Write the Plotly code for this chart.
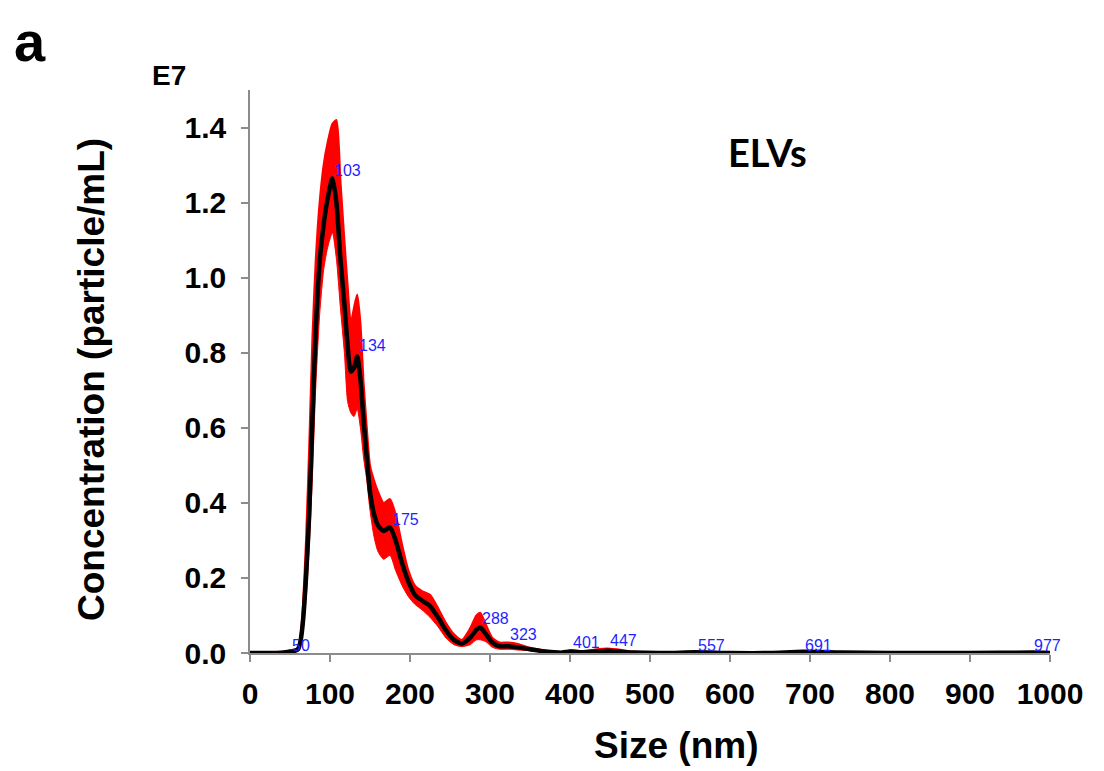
import plotly.graph_objects as go

# ---------------- data ----------------
size_nm = [0, 20, 40, 50, 55, 60, 63, 66, 70, 74, 78, 82, 87, 92, 97, 103, 108, 113, 118, 122,
           126, 130, 134, 138, 142, 146, 150, 155, 160, 167, 175, 182, 190, 198, 206, 215, 225,
           235, 245, 255, 265, 275, 283, 288, 295, 303, 312, 323, 335, 350, 365, 380, 390, 401,
           415, 430, 447, 465, 480, 520, 557, 600, 650, 691, 740, 800, 900, 977, 1000]

conc_mean = [0, 0, 0.001, 0.004, 0.005, 0.01, 0.03, 0.08, 0.2, 0.37, 0.62, 0.85, 1.04, 1.14, 1.21,
             1.265, 1.2, 1.05, 0.93, 0.82, 0.75, 0.76, 0.79, 0.73, 0.62, 0.52, 0.43, 0.37, 0.34,
             0.325, 0.335, 0.30, 0.24, 0.19, 0.155, 0.14, 0.125, 0.095, 0.06, 0.035, 0.025, 0.04,
             0.062, 0.068, 0.05, 0.028, 0.018, 0.018, 0.015, 0.01, 0.005, 0.002, 0.001, 0.004,
             0.002, 0.003, 0.006, 0.003, 0.001, 0.0, 0.002, 0.0, 0.0, 0.003, 0.001, 0.0, 0.0,
             0.001, 0.0]

conc_upper = [0.002, 0.002, 0.003, 0.006, 0.008, 0.015, 0.045, 0.12, 0.3, 0.55, 0.84, 1.04, 1.2,
              1.3, 1.36, 1.41, 1.42, 1.26, 1.1, 0.98, 0.88, 0.92, 0.955, 0.88, 0.72, 0.6, 0.5,
              0.46, 0.43, 0.4, 0.41, 0.37, 0.29, 0.22, 0.18, 0.165, 0.155, 0.12, 0.08, 0.05,
              0.035, 0.065, 0.1, 0.107, 0.075, 0.04, 0.028, 0.028, 0.024, 0.014, 0.008, 0.003,
              0.002, 0.007, 0.005, 0.009, 0.012, 0.008, 0.003, 0.001, 0.003, 0.001, 0.001,
              0.004, 0.002, 0.001, 0.001, 0.002, 0.001]

conc_lower = [0, 0, 0, 0.002, 0.003, 0.006, 0.02, 0.05, 0.14, 0.28, 0.47, 0.7, 0.9, 1.02, 1.08,
              1.12, 1.05, 0.92, 0.8, 0.67, 0.64, 0.63, 0.65, 0.6, 0.52, 0.46, 0.38, 0.31, 0.27,
              0.25, 0.26, 0.22, 0.18, 0.15, 0.13, 0.115, 0.095, 0.07, 0.04, 0.022, 0.017, 0.022,
              0.035, 0.035, 0.03, 0.015, 0.01, 0.01, 0.008, 0.006, 0.003, 0.001, 0.0, 0.002,
              0.0, 0.001, 0.002, 0.001, 0.0, 0.0, 0.001, 0.0, 0.0, 0.002, 0.0, 0.0, 0.0, 0.0, 0.0]

peak_sizes = [50, 103, 134, 175, 288, 323, 401, 447, 557, 691, 977]
peak_label_y = [0.021, 1.285, 0.819, 0.355, 0.091, 0.048, 0.027, 0.032, 0.021, 0.021, 0.021]

y_ticks = [0.0, 0.2, 0.4, 0.6, 0.8, 1.0, 1.2, 1.4]
x_ticks = [0, 100, 200, 300, 400, 500, 600, 700, 800, 900, 1000]

# ---------------- figure ----------------
OFF = 8  # default page body margin
W, H = 1104 - OFF, 771 - OFF
L, R, T, B = 250 - OFF, 54, 90 - OFF, 118
PW, PH = W - L - R, H - T - B


def px(x, y):
    """page pixel -> paper coordinates"""
    return (x - OFF - L) / PW, (H - B - (y - OFF)) / PH


fig = go.Figure()
fig.add_trace(go.Scatter(x=size_nm, y=conc_lower, mode="lines",
                         line=dict(color="red", width=1, shape="spline", smoothing=0.6),
                         showlegend=False, hoverinfo="skip"))
fig.add_trace(go.Scatter(x=size_nm, y=conc_upper, mode="lines",
                         line=dict(color="red", width=2, shape="spline", smoothing=0.6),
                         fill="tonexty", fillcolor="red", showlegend=False, hoverinfo="skip"))
fig.add_trace(go.Scatter(x=size_nm, y=conc_mean, mode="lines",
                         line=dict(color="black", width=4.5, shape="spline", smoothing=0.6),
                         showlegend=False))

ann = []
for s, yv in zip(peak_sizes, peak_label_y):
    ann.append(dict(x=s, y=yv, xref="x", yref="y", text=str(s), showarrow=False,
                    xanchor="left", yanchor="middle",
                    font=dict(family="Liberation Sans, Arial", size=16, color="#1f1fff")))

bold = dict(family="Liberation Sans, Arial", color="black", weight="bold")

x, y = px(676, 745)
ann.append(dict(x=x, y=y, xref="paper", yref="paper", text="Size (nm)", showarrow=False,
                xanchor="center", yanchor="middle", font=dict(size=37, **bold)))
x, y = px(92, 380)
ann.append(dict(x=x, y=y, xref="paper", yref="paper", text="Concentration (particle/mL)",
                showarrow=False, textangle=-90, xanchor="center", yanchor="middle",
                font=dict(size=37, **bold)))
x, y = px(169, 75)
ann.append(dict(x=x, y=y, xref="paper", yref="paper", text="E7", showarrow=False,
                xanchor="center", yanchor="middle", font=dict(size=28, **bold)))
x, y = px(30, OFF)
ann.append(dict(x=x, y=y, xref="paper", yref="paper", text="a", showarrow=False,
                xanchor="center", yanchor="top", font=dict(size=56, **bold)))
x, y = px(767, 152)
ann.append(dict(x=x, y=y, xref="paper", yref="paper", text="ELVs", showarrow=False,
                xanchor="center", yanchor="middle",
                font=dict(family="Lato", size=38, color="black", weight="bold")))

axis_common = dict(showgrid=False, zeroline=False, showline=True, linecolor="#8c8c8c", linewidth=1.5,
                   ticks="outside", ticklen=7, tickwidth=1.5, tickcolor="#8c8c8c",
                   tickfont=dict(size=30, **bold))

fig.update_layout(
    width=W, height=H,
    margin=dict(l=L, r=R, t=T, b=B),
    plot_bgcolor="white", paper_bgcolor="white",
    xaxis=dict(range=[0, 1000], tickvals=x_ticks, ticktext=[str(v) for v in x_ticks],
               ticklabelstandoff=6, **axis_common),
    yaxis=dict(range=[0, 1.5], tickvals=y_ticks, ticktext=[f"{v:.1f}" for v in y_ticks],
               ticklabelstandoff=9, **axis_common),
    annotations=ann,
)

fig.write_html("out.html")
